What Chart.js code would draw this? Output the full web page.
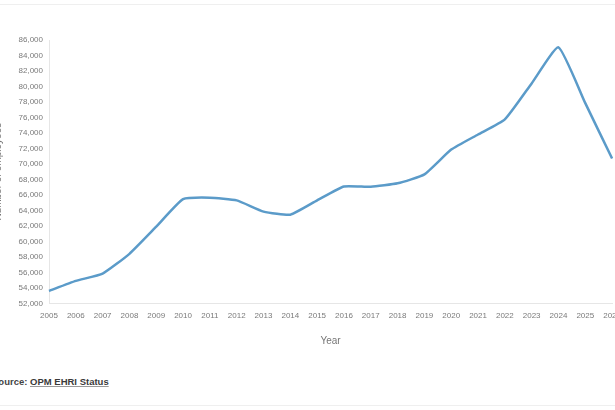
<!DOCTYPE html>
<html>
<head>
<meta charset="utf-8">
<script src="https://cdn.jsdelivr.net/npm/chart.js@4/dist/chart.umd.min.js"></script>
<style>
    html, body {
        margin: 0;
        padding: 0;
        width: 615px;
        height: 410px;
        overflow: hidden;
        background: #ffffff;
        position: relative;
    }
    .rule {
        position: absolute;
        left: 0;
        width: 615px;
        height: 1px;
        background: #efefef;
    }
    #chartBox {
        position: absolute;
        left: -12px;
        top: 0;
        width: 641px;
        height: 360px;
    }
    .source {
        position: absolute;
        left: -8px;
        top: 376px;
        font-family: "Liberation Sans", Arial, sans-serif;
        font-weight: bold;
        font-size: 9.5px;
        color: #444444;
        white-space: nowrap;
    }
    .source a {
        color: #3a3a3a;
        text-decoration: underline;
        text-decoration-color: #999999;
    }
</style>
</head>
<body>
<div class="rule" style="top: 4px;"></div>
<div id="chartBox"><canvas id="chart"></canvas></div>
<div class="source">Source: <a href="#">OPM EHRI Status</a></div>
<div class="rule" style="top: 405px;"></div>

<script>
const years = ["2005", "2006", "2007", "2008", "2009", "2010", "2011", "2012", "2013", "2014", "2015",
    "2016", "2017", "2018", "2019", "2020", "2021", "2022", "2023", "2024", "2025", "2026"];

const employees = [53600, 54900, 55850, 58400, 61900, 65450, 65650, 65300, 63850, 63450, 65300,
    67100, 67050, 67500, 68650, 71850, 73800, 75750, 80400, 85050, 77850, 70700];

const yMin = 52000;
const yMax = 86000;
const yStep = 2000;

const labelFont = "'Liberation Sans', Arial, sans-serif";
const tickColor = "#7a7a7a";
const axisColor = "#e6e6e6";

new Chart(document.getElementById("chart"), {
    type: "line",
    data: {
        labels: years,
        datasets: [{
            label: "Number of employees",
            data: employees,
            borderColor: "#5b9bc9",
            backgroundColor: "transparent",
            borderWidth: 2.5,
            tension: 0.15,
            fill: false,
            pointRadius: 0,
            pointHoverRadius: 0
        }]
    },
    options: {
        responsive: true,
        maintainAspectRatio: false,
        animation: false,
        layout: {
            padding: { top: 40, bottom: 13, left: 0, right: 0 }
        },
        plugins: {
            legend: { display: false },
            tooltip: { enabled: false }
        },
        scales: {
            x: {
                offset: false,
                grid: { display: false, drawTicks: false },
                border: { display: true, color: axisColor, width: 1 },
                ticks: {
                    color: tickColor,
                    font: { family: labelFont, size: 8 },
                    padding: 8,
                    maxRotation: 0,
                    autoSkip: false
                },
                title: {
                    display: true,
                    text: "Year",
                    color: "#777777",
                    font: { family: labelFont, size: 10 },
                    padding: { top: 6, bottom: 0 }
                }
            },
            y: {
                min: yMin,
                max: yMax,
                grid: { display: false, drawTicks: false },
                border: { display: true, color: axisColor, width: 1 },
                ticks: {
                    stepSize: yStep,
                    color: tickColor,
                    font: { family: labelFont, size: 8 },
                    padding: 6,
                    callback: (value) => value.toLocaleString("en-US")
                },
                title: {
                    display: true,
                    text: "Number of employees",
                    color: "#777777",
                    font: { family: labelFont, size: 10 },
                    padding: { top: 4, bottom: 4 }
                },
                afterFit: (scale) => {
                    scale.width = 61;
                }
            }
        }
    }
});
</script>
</body>
</html>
